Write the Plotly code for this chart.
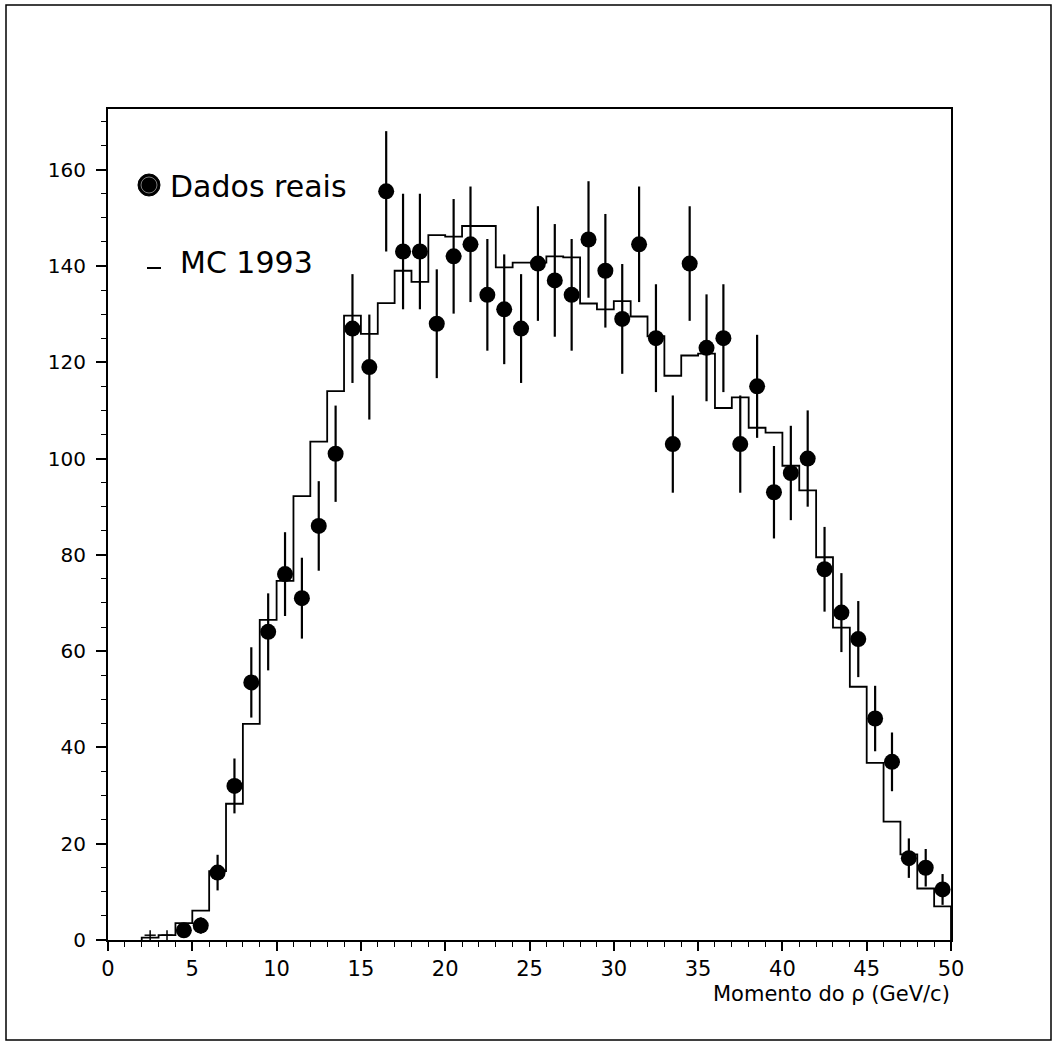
import plotly.graph_objects as go

# ---------------- data ----------------
# Data ("Dados reais"): bin centres, counts and error bars
data_x = [4.5, 5.5, 6.5, 7.5, 8.5, 9.5, 10.5, 11.5, 12.5, 13.5, 14.5, 15.5, 16.5, 17.5,
          18.5, 19.5, 20.5, 21.5, 22.5, 23.5, 24.5, 25.5, 26.5, 27.5, 28.5, 29.5, 30.5,
          31.5, 32.5, 33.5, 34.5, 35.5, 36.5, 37.5, 38.5, 39.5, 40.5, 41.5, 42.5, 43.5,
          44.5, 45.5, 46.5, 47.5, 48.5, 49.5]
data_y = [2, 3, 14, 32, 53.5, 64, 76, 71, 86, 101, 127, 119, 155.5, 143,
          143, 128, 142, 144.5, 134, 131, 127, 140.5, 137, 134, 145.5, 139, 129,
          144.5, 125, 103, 140.5, 123, 125, 103, 115, 93, 97, 100, 77, 68,
          62.5, 46, 37, 17, 15, 10.5]
data_err = [1.4, 1.7, 3.7, 5.7, 7.3, 8.0, 8.7, 8.4, 9.3, 10.0, 11.3, 10.9, 12.5, 12.0,
            12.0, 11.3, 11.9, 12.0, 11.6, 11.4, 11.3, 11.9, 11.7, 11.6, 12.1, 11.8, 11.4,
            12.0, 11.2, 10.1, 11.9, 11.1, 11.2, 10.1, 10.7, 9.6, 9.8, 10.0, 8.8, 8.2,
            7.9, 6.8, 6.1, 4.1, 3.9, 3.2]

# lowest bins: only small crosses are visible
low_x = [2.5, 3.5]
low_y = [1, 1]
low_err = [1, 1]

# MC 1993 histogram: bin edges and contents
mc_edges = [2, 3, 4, 5, 6, 7, 8, 9, 10, 11, 12, 13, 14, 15, 16, 17, 18, 19, 20, 21, 22,
            23, 24, 25, 26, 27, 28, 29, 30, 31, 32, 33, 34, 35, 36, 37, 38, 39, 40, 41,
            42, 43, 44, 45, 46, 47, 48, 49, 50]
mc_vals = [0.5, 1.0, 3.5, 6.1, 14.3, 28.3, 44.9, 66.5, 74.6, 92.2, 103.5, 114, 129.7,
           125.9, 132.3, 139, 136.7, 146.4, 146.1, 148.3, 148.3, 139.7, 140.7, 140.7,
           142, 141.8, 132.2, 131, 132.7, 129.5, 125.4, 117.2, 121.4, 121.8, 110.5,
           112.7, 106.4, 105.4, 98.5, 93.4, 79.5, 64.9, 52.6, 36.8, 24.6, 17.8, 10.7, 7.0]

y_ticks = [0, 20, 40, 60, 80, 100, 120, 140, 160]
x_ticks = [0, 5, 10, 15, 20, 25, 30, 35, 40, 45, 50]

legend_data = "Dados reais"
legend_mc = "MC 1993"
x_title = "Momento do ρ (GeV/c)"

# ---------------- layout geometry (pixels) ----------------
W, H = 1056, 1044
L, R, T, B = 108, 951, 109, 940   # plot area edges

def px(xp):
    return (xp - L) / (R - L)

def py(yp):
    return (B - yp) / (B - T)

FONT = "DejaVu Sans"

# step line built from the histogram arrays
step_x = [mc_edges[0]] + mc_edges + [mc_edges[-1]]
step_y = [0] + mc_vals + [mc_vals[-1], 0]

fig = go.Figure()

fig.add_trace(go.Scatter(
    x=step_x, y=step_y, mode="lines", line=dict(shape="hv", color="black", width=1.8),
    showlegend=False, hoverinfo="skip"))

fig.add_trace(go.Scatter(
    x=data_x, y=data_y, mode="markers",
    marker=dict(symbol="circle", size=16, color="black"),
    error_y=dict(type="data", array=data_err, color="black", thickness=2.2, width=0),
    showlegend=False))

fig.add_trace(go.Scatter(
    x=low_x, y=low_y, mode="markers",
    marker=dict(symbol="line-ew", size=8, color="black", line=dict(color="black", width=1.5)),
    error_y=dict(type="data", array=low_err, color="black", thickness=1.5, width=0),
    showlegend=False))

shapes = [
    # outer frame
    dict(type="rect", xref="paper", yref="paper",
         x0=px(6), x1=px(1051), y0=py(1040), y1=py(5),
         line=dict(color="black", width=1.5), fillcolor="rgba(0,0,0,0)", layer="below"),
    # legend marker
    dict(type="circle", xref="paper", yref="paper", xsizemode="pixel", ysizemode="pixel",
         xanchor=px(149), yanchor=py(185), x0=-11, x1=11, y0=-11, y1=11,
         fillcolor="black", line=dict(color="black", width=1)),
    dict(type="circle", xref="paper", yref="paper", xsizemode="pixel", ysizemode="pixel",
         xanchor=px(149), yanchor=py(185), x0=-8, x1=8, y0=-8, y1=8,
         fillcolor="rgba(0,0,0,0)", line=dict(color="rgba(255,255,255,0.6)", width=0.8)),
    # legend line sample
    dict(type="line", xref="paper", yref="paper",
         x0=px(147), x1=px(161), y0=py(268), y1=py(268),
         line=dict(color="black", width=2)),
]

annotations = [
    dict(text=legend_data, xref="paper", yref="paper", x=px(168), y=py(186),
         xanchor="left", yanchor="middle", showarrow=False,
         font=dict(family=FONT, size=30, color="black")),
    dict(text=legend_mc, xref="paper", yref="paper", x=px(178), y=py(262),
         xanchor="left", yanchor="middle", showarrow=False,
         font=dict(family=FONT, size=30, color="black")),
    dict(text=x_title, xref="paper", yref="paper", x=px(952), y=py(994),
         xanchor="right", yanchor="middle", showarrow=False,
         font=dict(family=FONT, size=21, color="black")),
]

fig.update_layout(
    width=W, height=H,
    margin=dict(l=L, r=W - R, t=T, b=H - B, pad=0),
    paper_bgcolor="white", plot_bgcolor="white",
    showlegend=False,
    shapes=shapes, annotations=annotations,
    font=dict(family=FONT, color="black"),
    xaxis=dict(range=[0, 50], tickvals=x_ticks, ticktext=[str(v) for v in x_ticks],
               showgrid=False, zeroline=False, showline=True, linecolor="black",
               linewidth=2, mirror=True, ticks="outside", ticklen=9, tickwidth=1.5,
               tickcolor="black", tickfont=dict(family=FONT, size=21, color="black"),
               minor=dict(dtick=1, tick0=0, ticks="outside", ticklen=5, tickwidth=1.2,
                          tickcolor="black", showgrid=False)),
    yaxis=dict(range=[0, 172.6], tickvals=y_ticks, ticktext=[str(v) for v in y_ticks],
               showgrid=False, zeroline=False, showline=True, linecolor="black",
               linewidth=2, mirror=True, ticks="outside", ticklen=10, tickwidth=1.5,
               tickcolor="black", tickfont=dict(family=FONT, size=20, color="black"),
               ticklabelstandoff=6,
               minor=dict(dtick=5, tick0=0, ticks="outside", ticklen=5, tickwidth=1.2,
                          tickcolor="black", showgrid=False)),
)

fig.write_html(
    "out.html",
    config={"displayModeBar": False},
    post_script="document.body.style.margin='0';document.body.style.overflow='hidden';",
)
